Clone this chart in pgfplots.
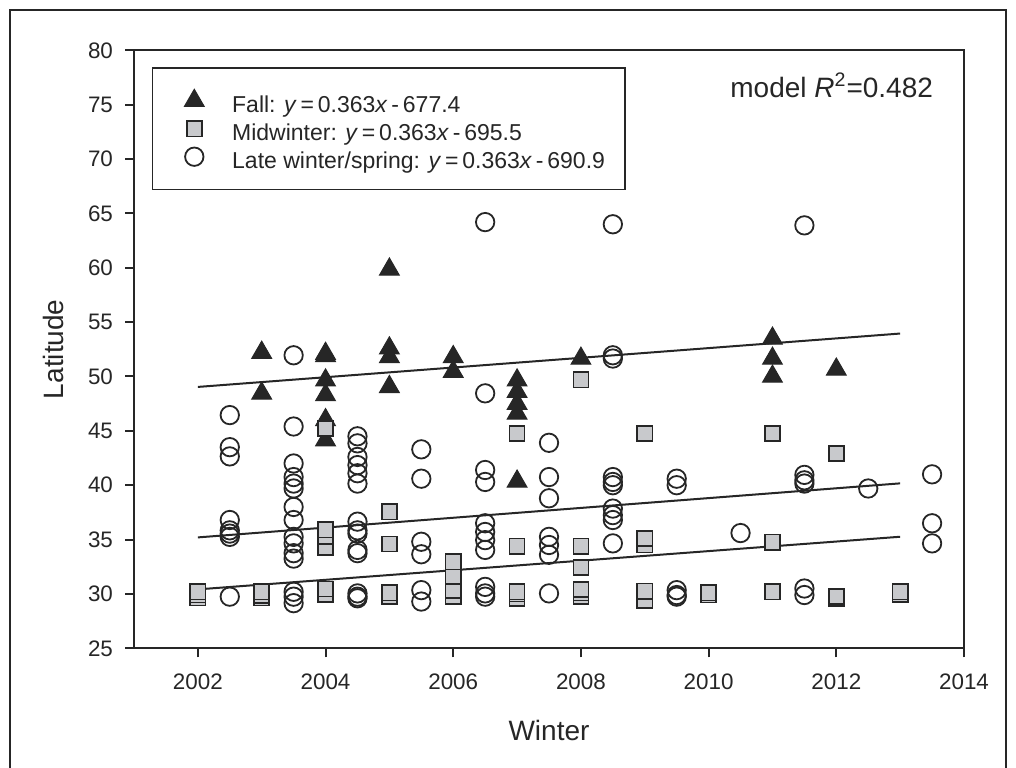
\documentclass[border=0pt]{standalone}
\usepackage{fontspec}
\setmainfont{Liberation Sans}
\usepackage{pgfplots}
\pgfplotsset{compat=1.18}
\definecolor{ink}{HTML}{262626}
\definecolor{boxfill}{HTML}{C8C9CC}

\begin{document}
\begin{tikzpicture}
\useasboundingbox (0,0) rectangle (508pt,383.5pt);
% frame round the whole figure
\draw[ink, line width=1pt] (5pt,-1pt) -- (5pt,378.5pt) -- (503pt,378.5pt) -- (503pt,-1pt);
\begin{axis}[
  at={(67pt,59.35pt)}, anchor=south west,
  scale only axis, width=415pt, height=299pt,
  xmin=2001, xmax=2014, ymin=25, ymax=80,
  xtick={2002,2004,...,2014}, ytick={25,30,...,80},
  xtick pos=bottom, ytick pos=left, tick align=outside,
  major tick length=4.5pt,
  axis line style={ink, line width=1pt},
  every tick/.style={ink, line width=1pt},
  /pgf/number format/assume math mode=true,
  /pgf/number format/1000 sep={},
  tick label style={font=\fontsize{11.2}{13}\selectfont, text=ink},
  xticklabel style={yshift=-4.5pt},
  yticklabel style={xshift=-2.5pt},
  xlabel={Winter}, ylabel={Latitude},
  every axis x label/.style={at={(rel axis cs:0.5,0)}, anchor=base, yshift=-46pt,
    font=\fontsize{14}{16}\selectfont, text=ink},
  every axis y label/.style={at={(rel axis cs:0,0.5)}, xshift=-35pt, rotate=90, anchor=base,
    font=\fontsize{14}{16}\selectfont, text=ink},
  legend style={at={(0,1)}, anchor=north west, xshift=8.85pt, yshift=-8.5pt,
    draw=ink, line width=0.6pt, font=\fontsize{11.5}{13}\selectfont, text=ink,
    inner xsep=9pt, inner ysep=9.4pt, row sep=0pt, column sep=13pt,
    nodes={inner sep=1pt, text height=12pt, text depth=0pt}},
  legend cell align=left,
  legend image code/.code={\path (-11.7pt,0pt); \draw[#1] plot coordinates {(0pt,0pt)};},
]
% Fall
\addplot[only marks, mark=triangle*, mark size=5.7pt,
  mark options={fill=ink, draw=ink, line width=0.5pt}] coordinates {
(2003,52.2)(2003,48.45)
(2004,52.1)(2004,51.9)(2004,49.65)(2004,48.3)(2004,46.0)(2004,44.15)
(2005,59.85)(2005,52.6)(2005,51.8)(2005,49.05)
(2006,51.8)(2006,50.45)
(2007,49.65)(2007,48.6)(2007,47.5)(2007,46.6)(2007,40.35)
(2008,51.65)
(2011,53.5)(2011,51.65)(2011,50.0)
(2012,50.65)};
\addlegendentry{Fall: \textit{y}\,=\,0.363\textit{x}\,-\,677.4}
% Midwinter
\addplot[only marks, mark=square*, mark size=3.8pt,
  mark options={fill=boxfill, draw=ink, line width=0.8pt}] coordinates {
(2002,29.65)(2002,29.9)(2002,30.2)
(2003,29.65)(2003,29.85)(2003,30.2)
(2004,29.9)(2004,30.0)(2004,30.45)(2004,34.3)(2004,35.3)(2004,35.9)(2004,45.2)
(2005,29.75)(2005,30.1)(2005,34.6)(2005,37.55)
(2006,29.75)(2006,30.35)(2006,31.6)(2006,32.95)
(2007,29.6)(2007,30.0)(2007,30.2)(2007,34.4)(2007,44.75)
(2008,29.75)(2008,30.1)(2008,30.4)(2008,32.45)(2008,34.4)(2008,49.7)
(2009,29.4)(2009,30.25)(2009,34.5)(2009,35.1)(2009,44.75)
(2010,29.9)(2010,30.1)
(2011,30.2)(2011,34.75)(2011,44.75)
(2012,29.6)(2012,29.75)(2012,42.9)
(2013,29.95)(2013,30.2)};
\addlegendentry{Midwinter: \textit{y}\,=\,0.363\textit{x}\,-\,695.5}
% Late winter/spring
\addplot[only marks, mark=o, mark size=4.6pt,
  mark options={draw=ink, line width=0.9pt}] coordinates {
(2002.5,46.45)(2002.5,43.5)(2002.5,42.65)(2002.5,36.8)(2002.5,35.85)(2002.5,35.55)(2002.5,35.25)(2002.5,29.75)
(2003.5,51.95)(2003.5,45.4)(2003.5,42.0)(2003.5,40.75)(2003.5,40.15)(2003.5,39.7)(2003.5,38.0)(2003.5,36.8)
(2003.5,35.25)(2003.5,34.65)(2003.5,33.75)(2003.5,33.25)(2003.5,30.2)(2003.5,29.75)(2003.5,29.15)
(2004.5,44.5)(2004.5,43.85)(2004.5,42.6)(2004.5,41.85)(2004.5,41.1)(2004.5,40.15)(2004.5,36.65)(2004.5,35.85)
(2004.5,35.55)(2004.5,34.05)(2004.5,33.75)(2004.5,30.05)(2004.5,29.75)(2004.5,29.6)
(2005.5,43.3)(2005.5,40.6)(2005.5,34.8)(2005.5,33.65)(2005.5,30.35)(2005.5,29.3)
(2006.5,64.2)(2006.5,48.45)(2006.5,41.4)(2006.5,40.3)(2006.5,36.5)(2006.5,35.7)(2006.5,34.95)(2006.5,34.05)
(2006.5,30.65)(2006.5,30.05)(2006.5,29.75)
(2007.5,43.9)(2007.5,40.75)(2007.5,38.8)(2007.5,35.25)(2007.5,34.5)(2007.5,33.6)(2007.5,30.05)
(2008.5,64.0)(2008.5,51.95)(2008.5,51.65)(2008.5,40.75)(2008.5,40.3)(2008.5,40.0)(2008.5,37.85)(2008.5,37.25)
(2008.5,36.8)(2008.5,34.65)
(2009.5,40.6)(2009.5,40.0)(2009.5,30.35)(2009.5,29.9)(2009.5,29.75)
(2010.5,35.6)
(2011.5,63.9)(2011.5,40.95)(2011.5,40.45)(2011.5,40.15)(2011.5,30.5)(2011.5,29.9)
(2012.5,39.7)
(2013.5,41.0)(2013.5,36.5)(2013.5,34.65)};
\addlegendentry{Late winter/spring: \textit{y}\,=\,0.363\textit{x}\,-\,690.9}
% fitted lines
\addplot[ink, line width=1pt, forget plot] coordinates {(2002,49.04)(2013,53.95)};
\addplot[ink, line width=1pt, forget plot] coordinates {(2002,35.2)(2013,40.17)};
\addplot[ink, line width=1pt, forget plot] coordinates {(2002,30.42)(2013,35.26)};
\node[anchor=base east, font=\fontsize{14}{16}\selectfont, text=ink,
  xshift=-12pt, yshift=-23.5pt] at (rel axis cs:1,1) {model \textit{R}\textsuperscript{2}=0.482};
\end{axis}
\end{tikzpicture}
\end{document}
